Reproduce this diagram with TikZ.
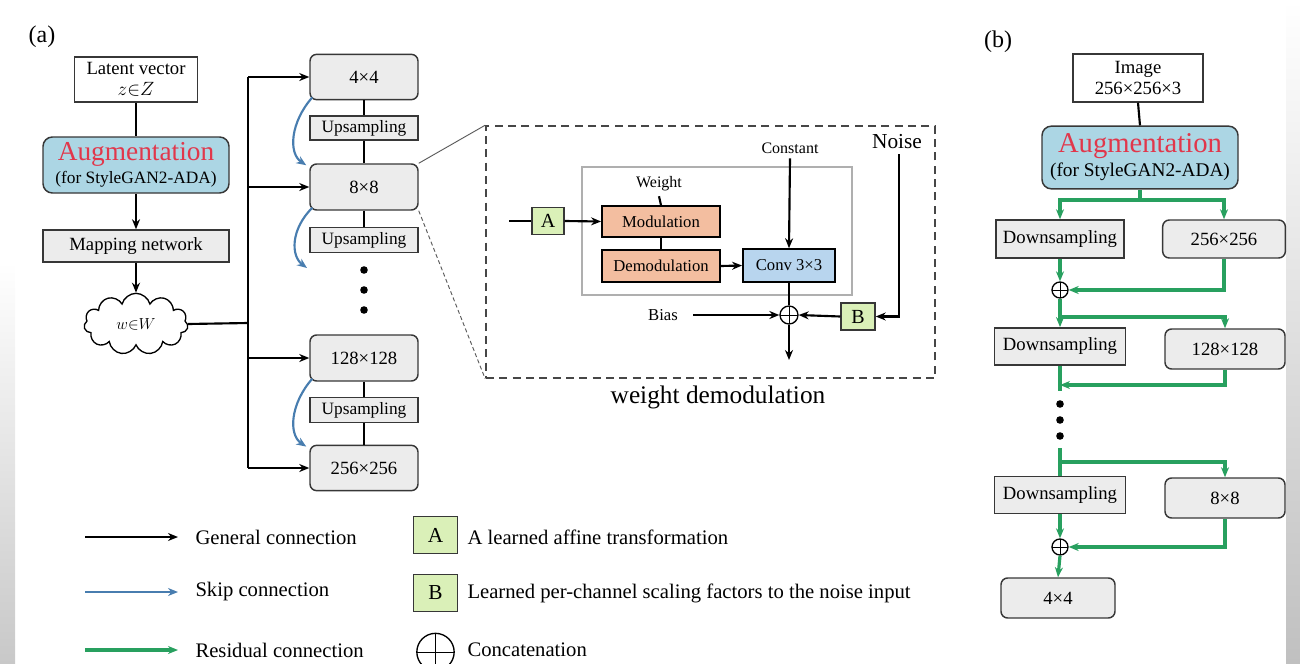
\documentclass[tikz,border=0pt]{standalone}
\usepackage{fontspec}
\setmainfont{Liberation Serif}
\usepackage{tikz}
\usetikzlibrary{shapes.symbols,arrows.meta}
\tikzset{every picture/.style={line width=0.75pt}}
\tikzset{
  >={Stealth[length=7.5pt,width=6pt]},
  box/.style={draw={rgb, 255:red, 55; green, 55; blue, 55}, line width=1.1pt, fill=white, align=center, inner sep=1pt},
  greybox/.style={box, fill={rgb, 255:red, 236; green, 236; blue, 236}},
  resbox/.style={greybox, rounded corners=5pt},
  augbox/.style={box, fill={rgb, 255:red, 172; green, 214; blue, 228}, rounded corners=7pt},
  affine/.style={box, fill={rgb, 255:red, 218; green, 240; blue, 184}},
  modbox/.style={box, line width=1.4pt, draw=black, fill={rgb, 255:red, 243; green, 190; blue, 160}},
  convbox/.style={box, line width=1.4pt, draw=black, fill={rgb, 255:red, 184; green, 213; blue, 238}},
  concat/.style={circle, draw, line width=1pt, inner sep=0pt, minimum size=#1,
    path picture={\draw[line width=0.7pt] (path picture bounding box.north) -- (path picture bounding box.south)
      (path picture bounding box.west) -- (path picture bounding box.east);}},
  gen/.style={->, line width=1.6pt, black},
  skipline/.style={->, line width=1.6pt, color={rgb, 255:red, 72; green, 125; blue, 175}},
  res/.style={line width=2.4pt, color={rgb, 255:red, 40; green, 160; blue, 95}},
  legtxt/.style={anchor=west, inner sep=0pt, font=\fontsize{15.5}{17}\selectfont},
}

\begin{document}
\begin{tikzpicture}[x=0.75pt,y=0.75pt,yscale=-1,xscale=1]
		\useasboundingbox (0,0) rectangle (1300,664);
		
		%Background strips
		\shade[top color=white, bottom color={rgb, 255:red, 200; green, 200; blue, 200}] (0,262) rectangle (15,664);
		\shade[top color=white, bottom color={rgb, 255:red, 192; green, 192; blue, 192}] (1286,0) rectangle (1300,664);
		
		%Panel labels
		\node[font=\fontsize{18}{20}\selectfont] (lbla) at (42,37) {(a)};
		\node[font=\fontsize{18}{20}\selectfont] (lblb) at (998,42) {(b)};
		
		%Shape: Rectangle [latent vector]
		\node[box, font=\fontsize{14}{15.5}\selectfont, minimum width=92pt, minimum height=34pt] (latent) at (136,79.5) {Latent vector\\$z{\in}Z$};
		%Shape: Rectangle [augmentation]
		\node[augbox, font=\fontsize{13}{17}\selectfont, minimum width=139.5pt, minimum height=42pt] (auga) at (136,165) {{\fontsize{20.5}{17}\selectfont\color[RGB]{225,55,75}Augmentation}\\(for StyleGAN2-ADA)};
		%Shape: Rectangle [mapping]
		\node[greybox, font=\fontsize{14}{16}\selectfont, minimum width=139.5pt, minimum height=24pt] (mapping) at (136,246) {Mapping network};
		%Shape: Cloud
		\node[cloud, draw, line width=1pt, cloud puffs=11, aspect=1.8, inner sep=0pt, minimum width=78pt, minimum height=46pt, font=\fontsize{13}{15}\selectfont] (wcloud) at (136,324) {$w{\in}W$};
		
		\draw[line width=1.6pt] (latent.south) -- (auga.north);
		\draw[gen] (auga.south) -- (mapping.north);
		\draw[gen] (mapping.south) -- (wcloud.north);
		
		%Generator blocks
		\node[resbox, font=\fontsize{14}{16}\selectfont, minimum width=81pt, minimum height=34pt] (s4) at (364,77) {4×4};
		\node[greybox, font=\fontsize{13}{15}\selectfont, minimum width=81pt, minimum height=18pt] (up1) at (364,128) {Upsampling};
		\node[resbox, font=\fontsize{14}{16}\selectfont, minimum width=81pt, minimum height=34.5pt] (s8) at (364,187) {8×8};
		\node[greybox, font=\fontsize{13}{15}\selectfont, minimum width=81pt, minimum height=18.5pt] (up2) at (364,240) {Upsampling};
		\node[resbox, font=\fontsize{14}{16}\selectfont, minimum width=81pt, minimum height=34.5pt] (s128) at (364,358) {128×128};
		\node[greybox, font=\fontsize{13}{15}\selectfont, minimum width=81pt, minimum height=18.5pt] (up3) at (364,410) {Upsampling};
		\node[resbox, font=\fontsize{14}{16}\selectfont, minimum width=81pt, minimum height=34pt] (s256) at (364,468) {256×256};
		
		\foreach \y in {270,290,310} {\fill (364,\y) circle (3.8);}
		
		\draw[line width=1.6pt] (s4.south) -- (up1.north) (up1.south) -- (s8.north) (s8.south) -- (up2.north);
		\draw[line width=1.6pt] (s128.south) -- (up3.north) (up3.south) -- (s256.north);
		
		%Straight Lines [w bus]
		\coordinate (bus) at (248,323);
		\draw[line width=1.6pt] (wcloud.east) -- (bus);
		\draw[line width=1.6pt] (bus |- s4) -- (bus |- s256);
		\foreach \n in {s4,s8,s128,s256} {\draw[gen] (bus |- \n) -- (\n.west);}
		
		%Skip connections
		\coordinate (skipend) at (307,268);
		\draw[skipline] ([shift={(3,-3)}]s4.south west) .. controls +(-22,25) and +(-18,-12) .. ([shift={(-3,2)}]s8.north west);
		\draw[skipline] ([shift={(3,-3)}]s8.south west) .. controls +(-22,22) and +(-16,-12) .. (skipend);
		\draw[skipline] ([shift={(3,-3)}]s128.south west) .. controls +(-22,25) and +(-18,-12) .. ([shift={(-3,2)}]s256.north west);
		
		%Weight demodulation panel
		\node[draw={rgb, 255:red, 70; green, 70; blue, 70}, line width=1.2pt, dash pattern=on 6pt off 4pt, minimum width=336.75pt, minimum height=189pt] (demod) at (710.5,252) {};
		\node[font=\fontsize{19}{21}\selectfont] (demodlbl) at (718,397) {weight demodulation};
		\draw[line width=0.7pt, color={rgb, 255:red, 90; green, 90; blue, 90}] (s8.north east) -- (demod.north west);
		\draw[line width=0.7pt, dash pattern=on 3pt off 2pt, color={rgb, 255:red, 90; green, 90; blue, 90}] (s8.south east) -- (demod.south west);
		
		\node[draw={rgb, 255:red, 175; green, 175; blue, 175}, line width=1.2pt, minimum width=202.5pt, minimum height=96pt] (inner) at (717,231) {};
		
		\node[font=\fontsize{12}{14}\selectfont] (weight) at (659,184) {Weight};
		\node[font=\fontsize{12}{14}\selectfont] (const) at (790,148) {Constant};
		\node[font=\fontsize{16}{18}\selectfont] (noise) at (897,142) {Noise};
		\node[font=\fontsize{12.5}{14}\selectfont] (bias) at (663,315) {Bias};
		
		\node[affine, font=\fontsize{15}{17}\selectfont, minimum width=24pt, minimum height=20pt] (bA) at (548,221) {A};
		\node[modbox, font=\fontsize{12.5}{14}\selectfont, minimum width=88.5pt, minimum height=23pt] (mod) at (661,221.5) {Modulation};
		\node[modbox, font=\fontsize{12.5}{14}\selectfont, minimum width=88.5pt, minimum height=24pt] (demodbox) at (661,266) {Demodulation};
		\node[convbox, font=\fontsize{12.5}{14}\selectfont, minimum width=69pt, minimum height=24.5pt] (conv) at (789,265.5) {Conv 3×3};
		\node[concat=13.5pt] (plus) at (789,315) {};
		\node[affine, font=\fontsize{15}{17}\selectfont, minimum width=25.5pt, minimum height=20pt] (bB) at (858,316.5) {B};
		
		\coordinate (ain) at (509,221);
		\coordinate (dout) at (789,360);
		\draw[line width=1.6pt] (ain) -- (bA.west);
		\draw[gen] (bA.east) -- (mod.west);
		\draw[line width=1.6pt] (weight.south) -- (mod.north);
		\draw[line width=1.6pt] (mod.south) -- (demodbox.north);
		\draw[gen] (demodbox.east) -- (conv.west);
		\draw[gen] (const.south) -- (conv.north);
		\draw[line width=1.6pt] (conv.south) -- (plus.north);
		\draw[gen] (plus.south) -- (dout);
		\draw[gen] ([xshift=8pt]bias.east) -- (plus.west);
		\draw[gen] (bB.west) -- (plus.east);
		\draw[gen] ([xshift=1.5pt]noise.south) |- (bB.east);
		
		%Panel (b)
		\node[box, font=\fontsize{14}{15.5}\selectfont, minimum width=97.5pt, minimum height=36pt] (img) at (1138,78) {Image\\256×256×3};
		\node[augbox, font=\fontsize{14.5}{18}\selectfont, minimum width=147pt, minimum height=47pt] (augb) at (1140,157.5) {{\fontsize{21.5}{18}\selectfont\color[RGB]{225,55,75}Augmentation}\\(for StyleGAN2-ADA)};
		\draw[line width=1.6pt] (img.south) -- (augb.north);
		
		\node[greybox, font=\fontsize{14}{16}\selectfont, minimum width=96pt, minimum height=28.5pt] (ds1) at (1060,239) {Downsampling};
		\node[resbox, font=\fontsize{14}{16}\selectfont, minimum width=92pt, minimum height=28.5pt] (r256) at (1224,239) {256×256};
		\node[concat=12pt] (cat1) at (1060,290) {};
		\node[greybox, font=\fontsize{14}{16}\selectfont, minimum width=98pt, minimum height=28pt] (ds2) at (1060,346.5) {Downsampling};
		\node[resbox, font=\fontsize{14}{16}\selectfont, minimum width=90pt, minimum height=30pt] (r128) at (1225,349) {128×128};
		\node[greybox, font=\fontsize{14}{16}\selectfont, minimum width=98pt, minimum height=28pt] (ds3) at (1060,495) {Downsampling};
		\node[resbox, font=\fontsize{14}{16}\selectfont, minimum width=90pt, minimum height=30pt] (r8) at (1225,498) {8×8};
		\node[concat=12pt] (cat2) at (1060,547) {};
		\node[resbox, font=\fontsize{14}{16}\selectfont, minimum width=85.5pt, minimum height=30pt] (r4) at (1058,598) {4×4};
		
		\coordinate (j1) at (1140,200);
		\coordinate (j2) at (1060,317);
		\coordinate (j3) at (1060,385);
		\coordinate (ds2end) at (1060,391);
		\coordinate (dsin) at (1060,448);
		\coordinate (j4) at (1060,462);
		
		\draw[res] (augb.south) -- (j1);
		\draw[res,->] (j1) -| (ds1.north);
		\draw[res,->] (j1) -| (r256.north);
		\draw[res,->] (ds1.south) -- (cat1.north);
		\draw[res,->] (r256.south) |- (cat1.east);
		\draw[res,->] (cat1.south) -- (ds2.north);
		\draw[res,->] (j2) -| (r128.north);
		\draw[res] (ds2.south) -- (ds2end);
		\draw[res,->] (r128.south) |- (j3);
		\foreach \y in {404,420,436} {\fill (1060,\y) circle (3.8);}
		\draw[res] (dsin) -- (ds3.north);
		\draw[res,->] (j4) -| (r8.north);
		\draw[res,->] (ds3.south) -- (cat2.north);
		\draw[res,->] (r8.south) |- (cat2.east);
		\draw[res,->] (cat2.south) -- (r4.north);
		
		%Legend
		\node[legtxt] (lgen) at (195,537) {General connection};
		\node[legtxt] (lskip) at (195,592) {Skip connection};
		\node[legtxt] (lres) at (195,650) {Residual connection};
		\draw[gen] ([xshift=-82.5pt]lgen.west) -- ([xshift=-12.75pt]lgen.west);
		\draw[skipline] ([xshift=-82.5pt]lskip.west) -- ([xshift=-12.75pt]lskip.west);
		\draw[res,->] ([xshift=-82.5pt]lres.west) -- ([xshift=-12.75pt]lres.west);
		
		\node[affine, font=\fontsize{16}{18}\selectfont, minimum width=33pt, minimum height=28pt] (legA) at (435.5,535) {A};
		\node[affine, font=\fontsize{16}{18}\selectfont, minimum width=33pt, minimum height=28pt] (legB) at (435.5,593) {B};
		\node[concat=28pt] (legcat) at (435.5,652) {};
		\node[legtxt] (ltA) at (467,537) {A learned affine transformation};
		\node[legtxt] (ltB) at (467,593) {Learned per-channel scaling factors to the noise input};
		\node[legtxt] (ltC) at (467,650) {Concatenation};
		
\end{tikzpicture}
\end{document}
